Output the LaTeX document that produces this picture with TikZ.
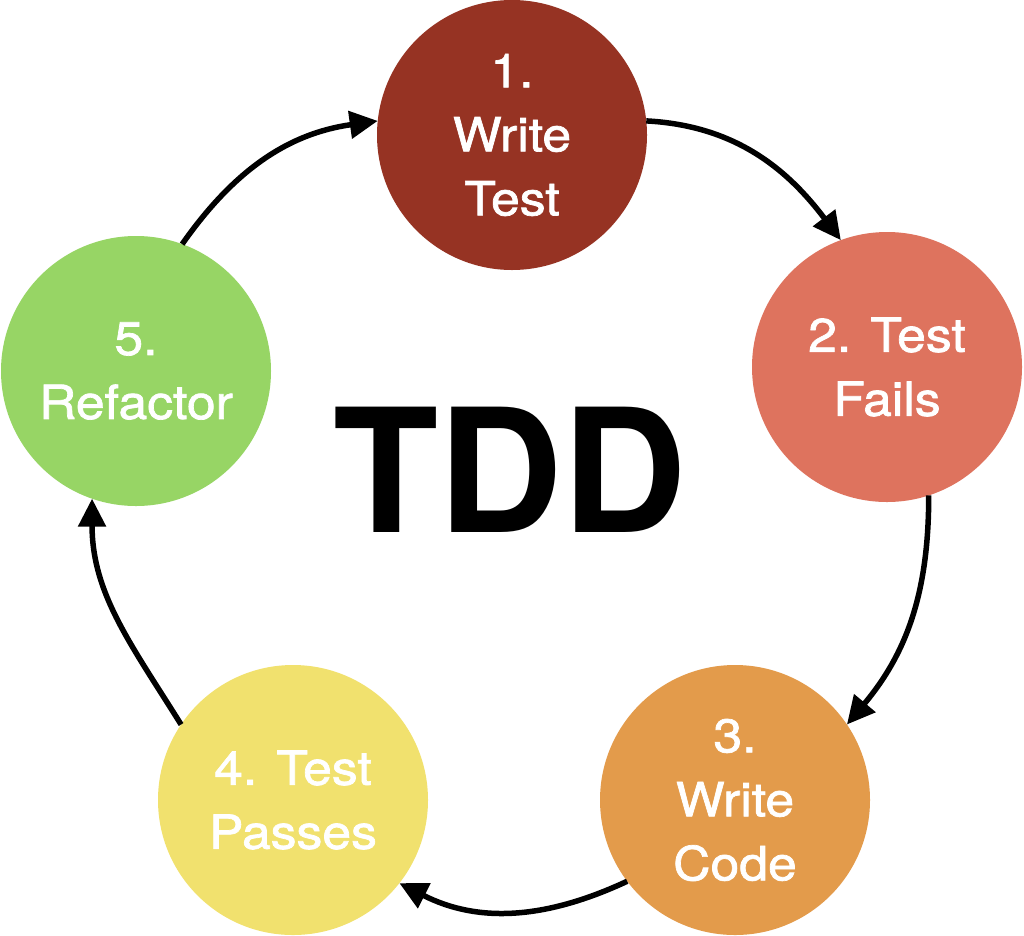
\documentclass[tikz,border=0pt]{standalone}
\usepackage{fontspec}
\setmainfont{TeX Gyre Heros}
\newfontfamily\stagefont[FakeStretch=1.1,FakeBold=1.5]{TeX Gyre Heros}
\newfontfamily\titlefont{TeX Gyre Heros}
\usetikzlibrary{arrows.meta}
\definecolor{cone}{HTML}{963323}
\definecolor{ctwo}{HTML}{DE735E}
\definecolor{cthree}{HTML}{E39B4B}
\definecolor{cfour}{HTML}{F1E16E}
\definecolor{cfive}{HTML}{97D565}
\begin{document}
\begin{tikzpicture}[x=1pt,y=-1pt,
  stagebox/.style={circle,minimum size=270pt,inner sep=0pt,outer sep=0pt,
    text=white,align=center,font=\stagefont\fontsize{47}{64}\selectfont},
  cyc/.style={line width=5.5pt,-{Triangle[length=28pt,width=27pt]}}]
\useasboundingbox[fill=white] (0,0) rectangle (1024,935);
\node[stagebox,fill=cone] (c1) at (512,135) {1.\\Write\\Test};
\node[stagebox,fill=ctwo] (c2) at (887,367) {2. Test\\Fails};
\node[stagebox,fill=cthree] (c3) at (735,800) {3.\\Write\\Code};
\node[stagebox,fill=cfour] (c4) at (293,800) {4. Test\\Passes};
\node[stagebox,fill=cfive] (c5) at (136,371) {5.\\Refactor};
\node[font=\titlefont\bfseries\fontsize{172}{180}\selectfont,inner sep=0pt] (tdd) at (510,470) {TDD};
\draw[cyc] (c1.6) to[out=-3,in=127] (c2.110);
\draw[cyc] (c2.-72) to[out=-90,in=50] (c3.34);
\draw[cyc] (c3.217) to[out=205,in=-27] (c4.-38);
\draw[cyc] (c4.146) to[out=122,in=-90] (c5.-109);
\draw[cyc] (c5.70) to[out=55,in=188] (c1.174);
\end{tikzpicture}
\end{document}
